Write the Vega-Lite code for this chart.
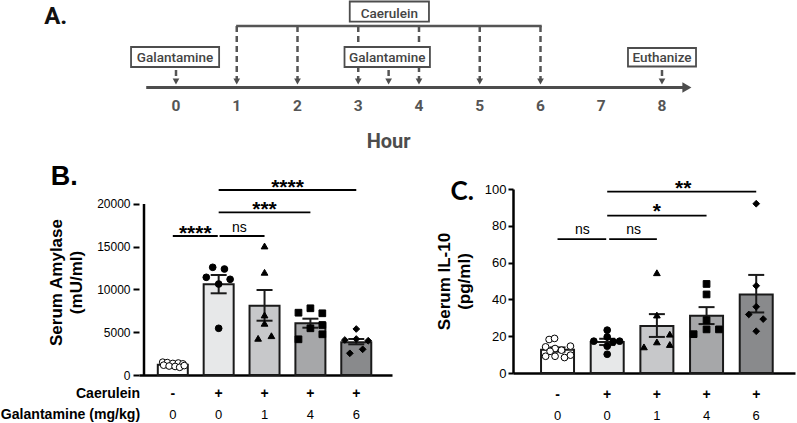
{
  "background": "white",
  "padding": 0,
  "spacing": 9,
  "config": {
    "view": {"stroke": null},
    "font": "Liberation Sans",
    "axis": {"labelFont": "Liberation Sans", "titleFont": "Liberation Sans", "grid": false, "labelColor": "#000", "titleColor": "#000", "domainColor": "#000", "tickColor": "#000"}
  },
  "datasets": {
    "barsB": [
      {"x": 1, "y": 1200, "lo": 1120, "hi": 1290, "g": 1},
      {"x": 2, "y": 10608, "lo": 9556, "hi": 11696, "g": 2},
      {"x": 3, "y": 8105, "lo": 6350, "hi": 9942, "g": 3},
      {"x": 4, "y": 6047, "lo": 5532, "hi": 6585, "g": 4},
      {"x": 5, "y": 3824, "lo": 3590, "hi": 4210, "g": 5}
    ],
    "ptsB": [
      {"x": 0.78, "y": 1500, "g": 1}, {"x": 0.88, "y": 1450, "g": 1}, {"x": 1.0, "y": 1350, "g": 1}, {"x": 1.12, "y": 1400, "g": 1}, {"x": 1.22, "y": 1300, "g": 1},
      {"x": 0.8, "y": 1150, "g": 1}, {"x": 0.92, "y": 1050, "g": 1}, {"x": 1.05, "y": 1000, "g": 1}, {"x": 1.15, "y": 900, "g": 1}, {"x": 1.25, "y": 1100, "g": 1},
      {"x": 1.87, "y": 12596, "g": 2}, {"x": 2.126, "y": 12398, "g": 2}, {"x": 1.73, "y": 11427, "g": 2}, {"x": 2.25, "y": 11193, "g": 2}, {"x": 2.0, "y": 10643, "g": 2}, {"x": 2.0, "y": 5462, "g": 2},
      {"x": 3.0, "y": 15088, "g": 3}, {"x": 3.0, "y": 12012, "g": 3}, {"x": 3.0, "y": 7018, "g": 3}, {"x": 3.0, "y": 6047, "g": 3}, {"x": 2.86, "y": 4292, "g": 3}, {"x": 3.15, "y": 4596, "g": 3},
      {"x": 3.74, "y": 7287, "g": 4}, {"x": 4.0, "y": 7801, "g": 4}, {"x": 4.26, "y": 7216, "g": 4}, {"x": 4.0, "y": 5462, "g": 4}, {"x": 4.26, "y": 5848, "g": 4}, {"x": 3.74, "y": 4175, "g": 4}, {"x": 4.26, "y": 4760, "g": 4},
      {"x": 5.0, "y": 5380, "g": 5}, {"x": 4.75, "y": 4094, "g": 5}, {"x": 5.0, "y": 4210, "g": 5}, {"x": 5.26, "y": 4011, "g": 5}, {"x": 4.86, "y": 2538, "g": 5}, {"x": 5.14, "y": 3006, "g": 5}
    ],
    "barsC": [
      {"x": 1, "y": 12.7, "lo": 11.6, "hi": 13.9, "g": 1},
      {"x": 2, "y": 16.9, "lo": 15.2, "hi": 18.6, "g": 2},
      {"x": 3, "y": 25.6, "lo": 19.6, "hi": 32.0, "g": 3},
      {"x": 4, "y": 31.1, "lo": 26.6, "hi": 35.8, "g": 4},
      {"x": 5, "y": 42.7, "lo": 32.9, "hi": 53.3, "g": 5}
    ],
    "ptsC": [
      {"x": 0.83, "y": 18.2, "g": 1}, {"x": 0.94, "y": 18.8, "g": 1}, {"x": 0.76, "y": 14.2, "g": 1}, {"x": 0.95, "y": 13.3, "g": 1}, {"x": 1.26, "y": 14.6, "g": 1}, {"x": 1.08, "y": 12.4, "g": 1},
      {"x": 0.76, "y": 9.1, "g": 1}, {"x": 0.95, "y": 9.1, "g": 1}, {"x": 1.14, "y": 8.4, "g": 1}, {"x": 1.26, "y": 9.7, "g": 1}, {"x": 0.85, "y": 11.8, "g": 1},
      {"x": 2.0, "y": 23.3, "g": 2}, {"x": 2.0, "y": 19.6, "g": 2}, {"x": 1.73, "y": 17.3, "g": 2}, {"x": 2.25, "y": 17.3, "g": 2}, {"x": 2.0, "y": 14.6, "g": 2}, {"x": 2.0, "y": 10.2, "g": 2}, {"x": 2.12, "y": 17.0, "g": 2},
      {"x": 3.0, "y": 54.5, "g": 3}, {"x": 3.0, "y": 31.5, "g": 3}, {"x": 3.0, "y": 16.9, "g": 3}, {"x": 3.26, "y": 21.1, "g": 3}, {"x": 3.26, "y": 15.5, "g": 3}, {"x": 2.74, "y": 14.2, "g": 3},
      {"x": 4.0, "y": 48.4, "g": 4}, {"x": 4.0, "y": 42.7, "g": 4}, {"x": 4.0, "y": 28.7, "g": 4}, {"x": 4.0, "y": 23.7, "g": 4}, {"x": 3.74, "y": 21.1, "g": 4}, {"x": 4.25, "y": 23.7, "g": 4},
      {"x": 5.0, "y": 92.0, "g": 5}, {"x": 5.0, "y": 47.4, "g": 5}, {"x": 5.0, "y": 36.0, "g": 5}, {"x": 4.85, "y": 31.8, "g": 5}, {"x": 5.14, "y": 29.3, "g": 5}, {"x": 5.0, "y": 22.7, "g": 5}
    ]
  },
  "vconcat": [
    {
      "width": 657,
      "height": 152,
      "view": {"fill": "white", "stroke": null},
      "encoding": {
        "x": {"field": "h", "type": "quantitative", "scale": {"domain": [-0.609, 10.2058], "nice": false, "zero": false}, "axis": null},
        "y": {"field": "u", "type": "quantitative", "scale": {"domain": [-6.55, 8.65], "nice": false, "zero": false}, "axis": null}
      },
      "layer": [
        {
          "data": {"values": [{"h": -0.49, "h2": 8.36, "u": 0}]},
          "mark": {"type": "rule", "strokeWidth": 3, "color": "#4d4d4d"},
          "encoding": {"x2": {"field": "h2"}}
        },
        {
          "data": {"values": [{"h": 8.41, "u": 0}]},
          "mark": {"type": "point", "shape": "triangle-right", "size": 110, "filled": true, "color": "#4d4d4d", "opacity": 1}
        },
        {
          "data": {"values": [
            {"h": 1, "u": 6.15, "u2": 0.85}, {"h": 2, "u": 6.15, "u2": 0.85}, {"h": 3, "u": 6.15, "u2": 0.85},
            {"h": 4, "u": 6.15, "u2": 0.85}, {"h": 5, "u": 6.15, "u2": 0.85}, {"h": 6, "u": 6.15, "u2": 0.85},
            {"h": 0, "u": 1.75, "u2": 0.85}, {"h": 3.5, "u": 1.75, "u2": 0.85}, {"h": 8, "u": 1.75, "u2": 0.85}
          ]},
          "mark": {"type": "rule", "strokeWidth": 2.5, "strokeDash": [6, 4], "color": "#555"},
          "encoding": {"y2": {"field": "u2"}}
        },
        {
          "data": {"values": [{"h": 0.99, "h2": 6.02, "u": 6.15}]},
          "mark": {"type": "rule", "strokeWidth": 2.5, "color": "#555"},
          "encoding": {"x2": {"field": "h2"}}
        },
        {
          "data": {"values": [
            {"h": 0, "u": 0.6}, {"h": 1, "u": 0.6}, {"h": 2, "u": 0.6}, {"h": 3, "u": 0.6}, {"h": 3.5, "u": 0.6},
            {"h": 4, "u": 0.6}, {"h": 5, "u": 0.6}, {"h": 6, "u": 0.6}, {"h": 8, "u": 0.6}
          ]},
          "mark": {"type": "point", "shape": "triangle-down", "size": 45, "filled": true, "color": "#4d4d4d", "opacity": 1}
        },
        {
          "data": {"values": [
            {"h": -0.74, "h2": 0.71, "u": 4.05, "u2": 2.05},
            {"h": 2.774, "h2": 4.18, "u": 4.05, "u2": 2.05},
            {"h": 7.44, "h2": 8.56, "u": 3.95, "u2": 2.1},
            {"h": 2.86, "h2": 4.164, "u": 8.6, "u2": 6.58}
          ]},
          "mark": {"type": "rect", "fill": "white", "stroke": "#4d4d4d", "strokeWidth": 1.8},
          "encoding": {"x2": {"field": "h2"}, "y2": {"field": "u2"}}
        },
        {
          "data": {"values": [
            {"h": -0.015, "u": 2.6, "t": "Galantamine"},
            {"h": 3.477, "u": 2.6, "t": "Galantamine"},
            {"h": 8.0, "u": 2.55, "t": "Euthanize"},
            {"h": 3.512, "u": 6.98, "t": "Caerulein"}
          ]},
          "mark": {"type": "text", "font": "Roboto", "fontSize": 13.5, "fontWeight": 500, "color": "#444", "baseline": "alphabetic", "align": "center"},
          "encoding": {"text": {"field": "t"}}
        },
        {
          "data": {"values": [
            {"h": 0, "u": -2.35, "t": "0"}, {"h": 1, "u": -2.35, "t": "1"}, {"h": 2, "u": -2.35, "t": "2"},
            {"h": 3, "u": -2.35, "t": "3"}, {"h": 4, "u": -2.35, "t": "4"}, {"h": 5, "u": -2.35, "t": "5"},
            {"h": 6, "u": -2.35, "t": "6"}, {"h": 7, "u": -2.35, "t": "7"}, {"h": 8, "u": -2.35, "t": "8"}
          ]},
          "mark": {"type": "text", "font": "Roboto", "fontSize": 15.5, "fontWeight": "bold", "color": "#555", "baseline": "alphabetic", "align": "center"},
          "encoding": {"text": {"field": "t"}}
        },
        {
          "data": {"values": [{"h": 3.5, "u": -6.05, "t": "Hour"}]},
          "mark": {"type": "text", "font": "Roboto", "fontSize": 20, "fontWeight": "bold", "color": "#4d4d4d", "baseline": "alphabetic", "align": "center"},
          "encoding": {"text": {"field": "t"}}
        },
        {
          "data": {"values": [{"h": -2.17, "u": 6.32, "t": "A."}]},
          "mark": {"type": "text", "font": "Roboto", "fontSize": 24, "fontWeight": "bold", "color": "#111", "baseline": "alphabetic", "align": "left"},
          "encoding": {"text": {"field": "t"}}
        }
      ]
    },
    {
      "hconcat": [
        {
          "width": 253,
          "height": 186,
          "encoding": {
            "x": {"field": "x", "type": "quantitative", "scale": {"domain": [0.372, 5.67], "nice": false, "zero": false}, "axis": {"title": null, "ticks": false, "labels": false, "domain": true, "domainWidth": 2.5, "domainColor": "#000", "grid": false}},
            "y": {"field": "y", "type": "quantitative", "scale": {"domain": [0, 21754], "nice": false, "zero": false}, "axis": {"title": ["Serum Amylase", "(mU/ml)"], "values": [0, 5000, 10000, 15000, 20000], "format": "d", "domain": false, "tickSize": 6, "tickWidth": 2, "labelFontSize": 12, "labelPadding": 3, "titleFontSize": 17, "titleFontWeight": "bold", "titleLineHeight": 20, "titlePadding": 11, "grid": false}}
          },
          "resolve": {"scale": {"fill": "independent", "shape": "independent"}},
          "layer": [
            {
              "data": {"values": [{"x": 0.372, "y": 0, "y2": 20000}]},
              "mark": {"type": "rule", "strokeWidth": 2.5, "color": "#000"},
              "encoding": {"y2": {"field": "y2"}}
            },
            {
              "data": {"name": "barsB"},
              "mark": {"type": "bar", "orient": "vertical", "width": 30, "stroke": "#1a1a1a", "strokeWidth": 2},
              "encoding": {"fill": {"field": "g", "type": "nominal", "scale": {"domain": [1, 2, 3, 4, 5], "range": ["#ffffff", "#e7e8e9", "#c7c8ca", "#a6a7a9", "#898a8c"]}, "legend": null}}
            },
            {
              "data": {"name": "barsB"},
              "mark": {"type": "rule", "strokeWidth": 2, "color": "#1a1a1a"},
              "encoding": {"y": {"field": "lo", "type": "quantitative", "scale": {"domain": [0, 21754], "nice": false, "zero": false}}, "y2": {"field": "hi"}}
            },
            {
              "data": {"name": "barsB"},
              "mark": {"type": "rule", "strokeWidth": 2, "color": "#1a1a1a", "xOffset": -8, "x2Offset": 8},
              "encoding": {"x2": {"field": "x"}, "y": {"field": "hi", "type": "quantitative", "scale": {"domain": [0, 21754], "nice": false, "zero": false}}}
            },
            {
              "data": {"name": "barsB"},
              "mark": {"type": "rule", "strokeWidth": 2, "color": "#1a1a1a", "xOffset": -8, "x2Offset": 8},
              "encoding": {"x2": {"field": "x"}, "y": {"field": "lo", "type": "quantitative", "scale": {"domain": [0, 21754], "nice": false, "zero": false}}}
            },
            {
              "data": {"name": "ptsB"},
              "mark": {"type": "point", "filled": true, "size": 45, "stroke": "#000", "strokeWidth": 1, "opacity": 1},
              "encoding": {
                "shape": {"field": "g", "type": "nominal", "scale": {"domain": [1, 2, 3, 4, 5], "range": ["circle", "circle", "triangle-up", "square", "diamond"]}, "legend": null},
                "fill": {"field": "g", "type": "nominal", "scale": {"domain": [1, 2, 3, 4, 5], "range": ["#ffffff", "#000", "#000", "#000", "#000"]}, "legend": null}
              }
            },
            {
              "data": {"values": [
                {"x": 1, "x2": 1.98, "y": 16257}, {"x": 2.02, "x2": 3, "y": 16257},
                {"x": 2, "x2": 4, "y": 19029}, {"x": 2, "x2": 5, "y": 21637}
              ]},
              "mark": {"type": "rule", "strokeWidth": 1.8, "color": "#000"},
              "encoding": {"x2": {"field": "x2"}}
            },
            {
              "data": {"values": [{"x": 2.45, "y": 17228, "t": "ns"}]},
              "mark": {"type": "text", "fontSize": 14, "baseline": "middle", "align": "center", "color": "#000"},
              "encoding": {"text": {"field": "t"}}
            },
            {
              "data": {"values": [{"x": 1.49, "y": 17228, "t": "****"}, {"x": 3.0, "y": 19965, "t": "***"}, {"x": 3.5, "y": 22538, "t": "****"}]},
              "mark": {"type": "text", "fontSize": 21, "fontWeight": "bold", "baseline": "middle", "align": "center", "color": "#000", "dy": 6},
              "encoding": {"text": {"field": "t"}}
            },
            {
              "data": {"values": [
                {"x": 1, "y": -2222, "t": "-"}, {"x": 2, "y": -2222, "t": "+"}, {"x": 3, "y": -2222, "t": "+"}, {"x": 4, "y": -2222, "t": "+"}, {"x": 5, "y": -2222, "t": "+"}
              ]},
              "mark": {"type": "text", "fontSize": 14, "fontWeight": "bold", "baseline": "middle", "align": "center", "color": "#000"},
              "encoding": {"text": {"field": "t"}}
            },
            {
              "data": {"values": [
                {"x": 1, "y": -4678, "t": "0"}, {"x": 2, "y": -4678, "t": "0"}, {"x": 3, "y": -4678, "t": "1"}, {"x": 4, "y": -4678, "t": "4"}, {"x": 5, "y": -4678, "t": "6"}
              ]},
              "mark": {"type": "text", "fontSize": 13, "baseline": "middle", "align": "center", "color": "#000"},
              "encoding": {"text": {"field": "t"}}
            },
            {
              "data": {"values": [{"x": 0.288, "y": -2222, "t": "Caerulein"}, {"x": 0.288, "y": -4678, "t": "Galantamine (mg/kg)"}]},
              "mark": {"type": "text", "fontSize": 14.1, "fontWeight": "bold", "baseline": "middle", "align": "right", "color": "#000"},
              "encoding": {"text": {"field": "t"}}
            },
            {
              "data": {"values": [{"x": -1.66, "y": 22222, "t": "B."}]},
              "mark": {"type": "text", "fontSize": 27, "fontWeight": "bold", "baseline": "alphabetic", "align": "left", "color": "#000"},
              "encoding": {"text": {"field": "t"}}
            }
          ]
        },
        {
          "width": 282,
          "height": 184,
          "encoding": {
            "x": {"field": "x", "type": "quantitative", "scale": {"domain": [0.204, 5.68], "nice": false, "zero": false}, "axis": {"title": null, "ticks": false, "labels": false, "domain": true, "domainWidth": 2.5, "domainColor": "#000", "grid": false}},
            "y": {"field": "y", "type": "quantitative", "scale": {"domain": [0, 100], "nice": false, "zero": false}, "axis": {"title": ["Serum IL-10", "(pg/ml)"], "values": [0, 20, 40, 60, 80, 100], "domain": true, "domainWidth": 2.5, "tickSize": 5, "tickWidth": 2, "labelFontSize": 13, "labelPadding": 2, "titleFontSize": 17, "titleFontWeight": "bold", "titleLineHeight": 20, "titlePadding": 11, "grid": false}}
          },
          "resolve": {"scale": {"fill": "independent", "shape": "independent"}},
          "layer": [
            {
              "data": {"name": "barsC"},
              "mark": {"type": "bar", "orient": "vertical", "width": 33, "stroke": "#1a1a1a", "strokeWidth": 2},
              "encoding": {"fill": {"field": "g", "type": "nominal", "scale": {"domain": [1, 2, 3, 4, 5], "range": ["#ffffff", "#e7e8e9", "#c7c8ca", "#a6a7a9", "#898a8c"]}, "legend": null}}
            },
            {
              "data": {"name": "barsC"},
              "mark": {"type": "rule", "strokeWidth": 2, "color": "#1a1a1a"},
              "encoding": {"y": {"field": "lo", "type": "quantitative", "scale": {"domain": [0, 100], "nice": false, "zero": false}}, "y2": {"field": "hi"}}
            },
            {
              "data": {"name": "barsC"},
              "mark": {"type": "rule", "strokeWidth": 2, "color": "#1a1a1a", "xOffset": -8, "x2Offset": 8},
              "encoding": {"x2": {"field": "x"}, "y": {"field": "hi", "type": "quantitative", "scale": {"domain": [0, 100], "nice": false, "zero": false}}}
            },
            {
              "data": {"name": "barsC"},
              "mark": {"type": "rule", "strokeWidth": 2, "color": "#1a1a1a", "xOffset": -8, "x2Offset": 8},
              "encoding": {"x2": {"field": "x"}, "y": {"field": "lo", "type": "quantitative", "scale": {"domain": [0, 100], "nice": false, "zero": false}}}
            },
            {
              "data": {"name": "ptsC"},
              "mark": {"type": "point", "filled": true, "size": 45, "stroke": "#000", "strokeWidth": 1, "opacity": 1},
              "encoding": {
                "shape": {"field": "g", "type": "nominal", "scale": {"domain": [1, 2, 3, 4, 5], "range": ["circle", "circle", "triangle-up", "square", "diamond"]}, "legend": null},
                "fill": {"field": "g", "type": "nominal", "scale": {"domain": [1, 2, 3, 4, 5], "range": ["#ffffff", "#000", "#000", "#000", "#000"]}, "legend": null}
              }
            },
            {
              "data": {"values": [
                {"x": 1, "x2": 1.98, "y": 72.8}, {"x": 2.04, "x2": 3, "y": 72.8},
                {"x": 2, "x2": 4, "y": 85.5}, {"x": 2, "x2": 5, "y": 98.6}
              ]},
              "mark": {"type": "rule", "strokeWidth": 1.8, "color": "#000"},
              "encoding": {"x2": {"field": "x2"}}
            },
            {
              "data": {"values": [{"x": 1.5, "y": 77.5, "t": "ns"}, {"x": 2.53, "y": 77.5, "t": "ns"}]},
              "mark": {"type": "text", "fontSize": 14, "baseline": "middle", "align": "center", "color": "#000"},
              "encoding": {"text": {"field": "t"}}
            },
            {
              "data": {"values": [{"x": 3.0, "y": 90.6, "t": "*"}, {"x": 3.53, "y": 103.4, "t": "**"}]},
              "mark": {"type": "text", "fontSize": 21, "fontWeight": "bold", "baseline": "middle", "align": "center", "color": "#000", "dy": 6},
              "encoding": {"text": {"field": "t"}}
            },
            {
              "data": {"values": [
                {"x": 1, "y": -12, "t": "-"}, {"x": 2, "y": -12, "t": "+"}, {"x": 3, "y": -12, "t": "+"}, {"x": 4, "y": -12, "t": "+"}, {"x": 5, "y": -12, "t": "+"}
              ]},
              "mark": {"type": "text", "fontSize": 14, "fontWeight": "bold", "baseline": "middle", "align": "center", "color": "#000"},
              "encoding": {"text": {"field": "t"}}
            },
            {
              "data": {"values": [
                {"x": 1, "y": -23.2, "t": "0"}, {"x": 2, "y": -23.2, "t": "0"}, {"x": 3, "y": -23.2, "t": "1"}, {"x": 4, "y": -23.2, "t": "4"}, {"x": 5, "y": -23.2, "t": "6"}
              ]},
              "mark": {"type": "text", "fontSize": 13, "baseline": "middle", "align": "center", "color": "#000"},
              "encoding": {"text": {"field": "t"}}
            },
            {
              "data": {"values": [{"x": -1.155, "y": 94.0, "t": "C."}]},
              "mark": {"type": "text", "font": "Lato", "fontSize": 26, "fontWeight": "bold", "baseline": "alphabetic", "align": "left", "color": "#000"},
              "encoding": {"text": {"field": "t"}}
            }
          ]
        }
      ],
      "spacing": 121,
      "bounds": "flush"
    }
  ]
}
